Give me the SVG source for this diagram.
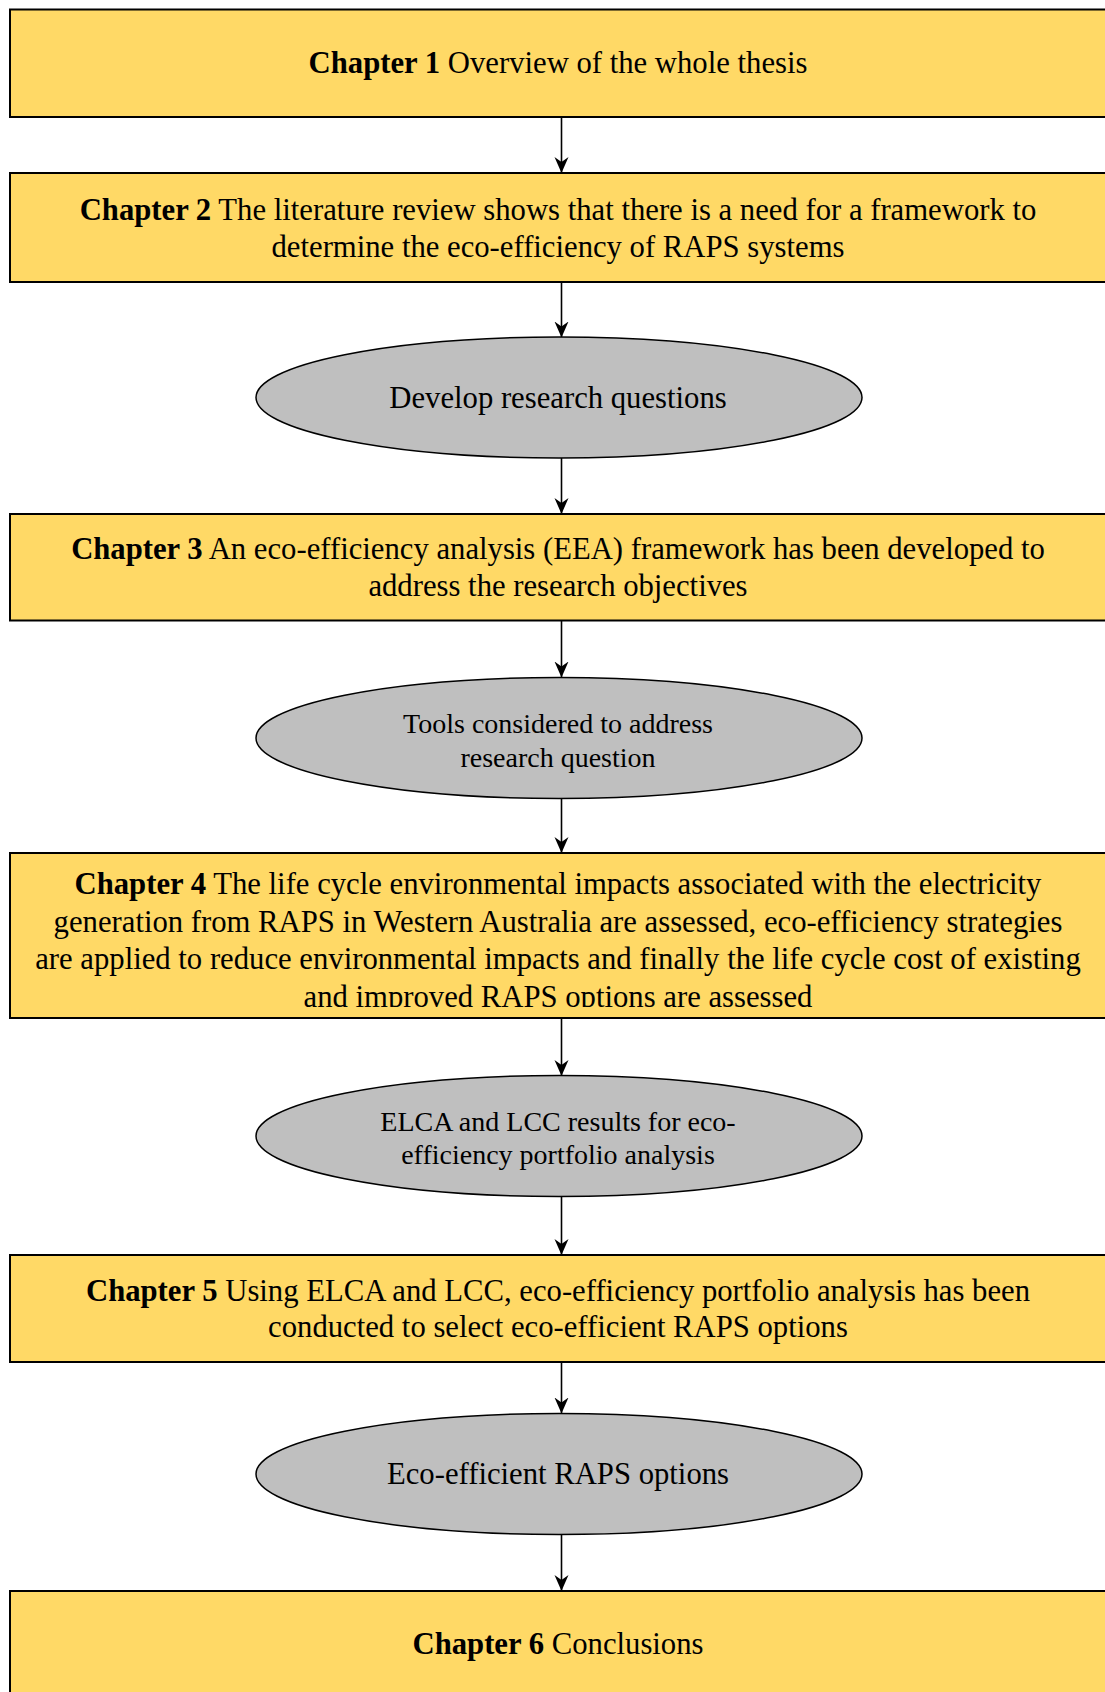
<svg xmlns="http://www.w3.org/2000/svg" width="1105" height="1692" viewBox="0 0 1105 1692">
  <style>
    .box { fill: #FFD966; stroke: #000; stroke-width: 2; }
    .oval { fill: #BFBFBF; stroke: #000; stroke-width: 1.5; }
    .t { font-family: "Liberation Serif", "Times New Roman", serif; font-size: 30.7px; fill: #000; text-anchor: middle; }
    .s { font-size: 28px; }
    .b { font-weight: bold; }
    .link { stroke: #000; stroke-width: 1.6; fill: none; marker-end: url(#head); }
  </style>
  <defs>
    <marker id="head" markerUnits="userSpaceOnUse" markerWidth="18" markerHeight="16" refX="16" refY="7" orient="auto" viewBox="0 0 18 14">
      <path d="M0,0 L16,7 L0,14 L5,7 Z" fill="#000"/>
    </marker>
    <clipPath id="clip4">
      <rect x="10" y="853" width="1103" height="154"/>
    </clipPath>
  </defs>

  <rect width="1105" height="1692" fill="#fff"/>

  <g id="connectors">
    <line class="link" x1="561.5" y1="117.5" x2="561.5" y2="173"/>
    <line class="link" x1="561.5" y1="282.5" x2="561.5" y2="337.5"/>
    <line class="link" x1="561.5" y1="458" x2="561.5" y2="514"/>
    <line class="link" x1="561.5" y1="621" x2="561.5" y2="677.5"/>
    <line class="link" x1="561.5" y1="798.5" x2="561.5" y2="853"/>
    <line class="link" x1="561.5" y1="1018.5" x2="561.5" y2="1076"/>
    <line class="link" x1="561.5" y1="1196" x2="561.5" y2="1255"/>
    <line class="link" x1="561.5" y1="1362.5" x2="561.5" y2="1413.5"/>
    <line class="link" x1="561.5" y1="1534.5" x2="561.5" y2="1591"/>
  </g>

  <g id="chapter1">
    <rect class="box" x="10" y="9.5" width="1103" height="107.5"/>
    <text class="t" x="558" y="73.3"><tspan class="b">Chapter 1</tspan> Overview of the whole thesis</text>
  </g>

  <g id="chapter2">
    <rect class="box" x="10" y="173" width="1103" height="109"/>
    <text class="t" x="558" y="220"><tspan class="b">Chapter 2</tspan> The literature review shows that there is a need for a framework to</text>
    <text class="t" x="558" y="256.5">determine the eco-efficiency of RAPS systems</text>
  </g>

  <g id="questions">
    <ellipse class="oval" cx="559" cy="397.5" rx="303" ry="60.5"/>
    <text class="t" x="558" y="408.3">Develop research questions</text>
  </g>

  <g id="chapter3">
    <rect class="box" x="10" y="514" width="1103" height="106.5"/>
    <text class="t" x="558" y="559.3"><tspan class="b">Chapter 3</tspan> An eco-efficiency analysis (EEA) framework has been developed to</text>
    <text class="t" x="558" y="595.8">address the research objectives</text>
  </g>

  <g id="tools">
    <ellipse class="oval" cx="559" cy="738" rx="303" ry="60.5"/>
    <text class="t s" x="558" y="732.8">Tools considered to address</text>
    <text class="t s" x="558" y="767.2">research question</text>
  </g>

  <g id="chapter4">
    <rect class="box" x="10" y="853" width="1103" height="165"/>
    <g clip-path="url(#clip4)">
      <text class="t" x="558" y="894.3"><tspan class="b">Chapter 4</tspan> The life cycle environmental impacts associated with the electricity</text>
      <text class="t" x="558" y="931.8">generation from RAPS in Western Australia are assessed, eco-efficiency strategies</text>
      <text class="t" x="558" y="969.3">are applied to reduce environmental impacts and finally the life cycle cost of existing</text>
      <text class="t" x="558" y="1006.8">and improved RAPS options are assessed</text>
    </g>
  </g>

  <g id="results">
    <ellipse class="oval" cx="559" cy="1136" rx="303" ry="60.5"/>
    <text class="t s" x="558" y="1130.5">ELCA and LCC results for eco-</text>
    <text class="t s" x="558" y="1163.8">efficiency portfolio analysis</text>
  </g>

  <g id="chapter5">
    <rect class="box" x="10" y="1255" width="1103" height="107"/>
    <text class="t" x="558" y="1300.5"><tspan class="b">Chapter 5</tspan> Using ELCA and LCC, eco-efficiency portfolio analysis has been</text>
    <text class="t" x="558" y="1337">conducted to select eco-efficient RAPS options</text>
  </g>

  <g id="options">
    <ellipse class="oval" cx="559" cy="1474" rx="303" ry="60.5"/>
    <text class="t" x="558" y="1483.7">Eco-efficient RAPS options</text>
  </g>

  <g id="chapter6">
    <rect class="box" x="10" y="1591" width="1103" height="108"/>
    <text class="t" x="558" y="1653.5"><tspan class="b">Chapter 6</tspan> Conclusions</text>
  </g>
</svg>
